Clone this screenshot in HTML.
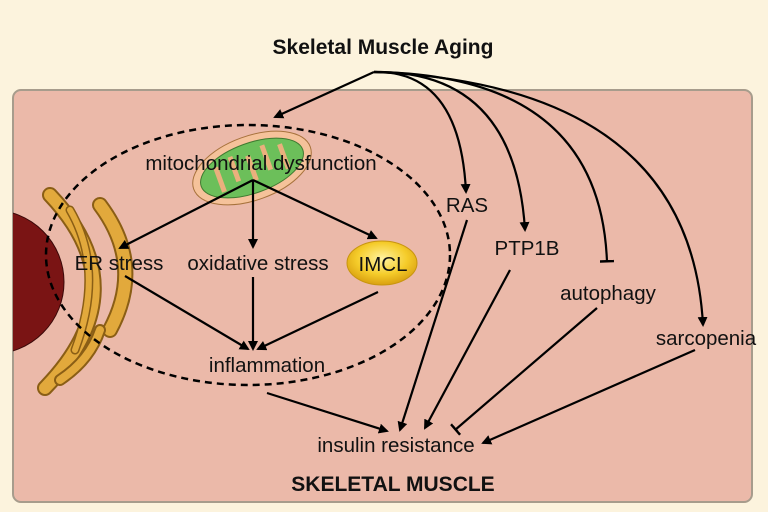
<!DOCTYPE html>
<html><head><style>
body{margin:0;background:#fcf3dd;}
svg{display:block}
text{font-family:"Liberation Sans",sans-serif;fill:#111}
</style></head><body>
<svg width="768" height="512" viewBox="0 0 768 512">
<defs>
<marker id="a" markerWidth="10" markerHeight="10" refX="8" refY="5" orient="auto" markerUnits="userSpaceOnUse"><path d="M0,0 L10,5 L0,10 z" fill="#000"/></marker>
<marker id="t" markerWidth="4" markerHeight="14" refX="2" refY="7" orient="auto" markerUnits="userSpaceOnUse"><rect x="0" y="0" width="2.5" height="14" fill="#000"/></marker>
<radialGradient id="g" cx="50%" cy="40%" r="60%"><stop offset="0" stop-color="#fff3a0"/><stop offset="0.6" stop-color="#f5cc2a"/><stop offset="1" stop-color="#d9a010"/></radialGradient>
<clipPath id="box"><rect x="13" y="90" width="739" height="412" rx="8"/></clipPath>
</defs>
<rect x="13" y="90" width="739" height="412" rx="8" fill="#ebb9a9" stroke="#a79c8c" stroke-width="2"/>
<g clip-path="url(#box)">
<circle cx="-8" cy="282" r="72" fill="#7a1414" stroke="#3a0808"/>
<g fill="none" stroke-linecap="round">
<path d="M50 195 Q140 290 45 388" stroke="#8a5e15" stroke-width="16"/>
<path d="M50 195 Q140 290 45 388" stroke="#e2a93c" stroke-width="12"/>
<path d="M100 205 Q145 265 110 330" stroke="#8a5e15" stroke-width="16"/>
<path d="M100 205 Q145 265 110 330" stroke="#e2a93c" stroke-width="12"/>
<path d="M70 210 Q105 270 75 350" stroke="#8a5e15" stroke-width="9"/>
<path d="M70 210 Q105 270 75 350" stroke="#e2a93c" stroke-width="6"/>
<path d="M100 330 Q90 360 60 380" stroke="#8a5e15" stroke-width="12"/>
<path d="M100 330 Q90 360 60 380" stroke="#e2a93c" stroke-width="8"/>
</g>
</g>
<ellipse cx="248" cy="255" rx="202" ry="130" fill="none" stroke="#000" stroke-width="2.5" stroke-dasharray="7,5"/>
<g transform="rotate(-20 252 168)">
<ellipse cx="252" cy="168" rx="62" ry="32" fill="#f5c29a" stroke="#a7723c"/>
<ellipse cx="252" cy="168" rx="54" ry="25" fill="#6cbf5a" stroke="#3f7a30"/>
<path d="M218 155v26M235 150v26M252 155v26M269 150v26M286 155v26" stroke="#eab07d" stroke-width="5"/>
</g>
<text x="261" y="170" font-size="20.5" text-anchor="middle">mitochondrial dysfunction</text>
<text x="383" y="54" font-size="21" font-weight="bold" text-anchor="middle">Skeletal Muscle Aging</text>
<g fill="none" stroke="#000" stroke-width="2.2">
<path d="M374 72 L275 117" marker-end="url(#a)"/>
<path d="M374 72 Q460 70 466 192" marker-end="url(#a)"/>
<path d="M374 72 Q515 70 525 230" marker-end="url(#a)"/>
<path d="M374 72 Q600 75 607 262" marker-end="url(#t)"/>
<path d="M374 72 Q690 85 703 325" marker-end="url(#a)"/>
<path d="M253 180 L120 248" marker-end="url(#a)"/>
<path d="M253 180 L253 247" marker-end="url(#a)"/>
<path d="M253 180 L376 238" marker-end="url(#a)"/>
<path d="M125 276 L248 349" marker-end="url(#a)"/>
<path d="M253 277 L253 349" marker-end="url(#a)"/>
<path d="M378 292 L258 349" marker-end="url(#a)"/>
<path d="M267 393 L387 431" marker-end="url(#a)"/>
<path d="M467 220 L400 430" marker-end="url(#a)"/>
<path d="M510 270 L425 428" marker-end="url(#a)"/>
<path d="M597 308 L455 430" marker-end="url(#t)"/>
<path d="M695 350 L483 443" marker-end="url(#a)"/>
</g>
<ellipse cx="382" cy="263" rx="35" ry="22" fill="url(#g)" stroke="#c8950f"/>
<g font-size="20.5">
<text x="119" y="270" text-anchor="middle">ER stress</text>
<text x="258" y="270" text-anchor="middle">oxidative stress</text>
<text x="383" y="271" text-anchor="middle">IMCL</text>
<text x="267" y="372" text-anchor="middle">inflammation</text>
<text x="467" y="212" text-anchor="middle">RAS</text>
<text x="527" y="255" text-anchor="middle">PTP1B</text>
<text x="608" y="300" text-anchor="middle">autophagy</text>
<text x="706" y="345" text-anchor="middle">sarcopenia</text>
<text x="396" y="452" text-anchor="middle">insulin resistance</text>
</g>
<text x="393" y="491" font-size="21" font-weight="bold" text-anchor="middle">SKELETAL MUSCLE</text>
</svg>
</body></html>
